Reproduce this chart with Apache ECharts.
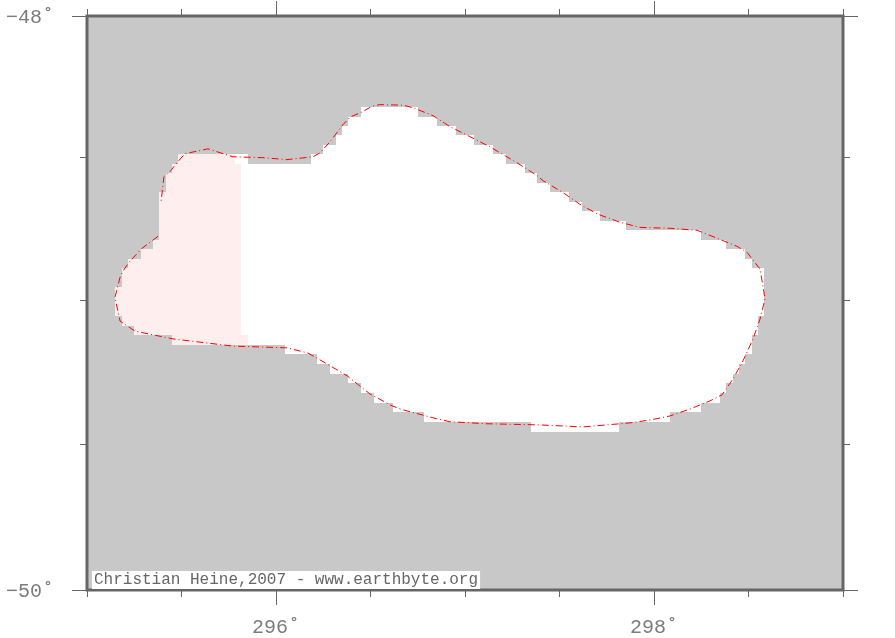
<!DOCTYPE html>
<html><head><meta charset="utf-8">
<style>html,body{margin:0;padding:0;background:#fff}#c{width:895px;height:638px}</style>
<script src="https://cdn.jsdelivr.net/npm/echarts@6/dist/echarts.min.js"></script>
</head><body><div id="c"></div>
<script>
const lonRange = [295, 299];
const latRange = [-50, -48];
const lonMajor = [296, 298];
const lonMinor = [295, 295.5, 296, 296.5, 297, 297.5, 298, 298.5, 299];
const latMajor = [-48, -50];
const latMinor = [-48.5, -49, -49.5];
const credit = 'Christian Heine,2007 - www.earthbyte.org';

// 2-minute raster: latitude of the row edges
const rowLat = [-48.323,-48.356,-48.389,-48.423,-48.456,-48.489,-48.523,-48.556,-48.589,-48.623,-48.656,-48.689,-48.723,-48.756,-48.789,-48.823,-48.856,-48.889,-48.923,-48.956,-48.989,-49.023,-49.056,-49.089,-49.123,-49.156,-49.189,-49.223,-49.256,-49.289,-49.323,-49.356,-49.389,-49.423,-49.456];
// raster extent per row, in grid columns
const rowWest = [43,41,40,39,37,35,13,12,12,11,11,11,11,11,10,8,6,5,5,4,4,4,5,7,13,31,36,38,41,43,45,48,53,70];
const rowEast = [52,55,58,61,64,66,69,71,73,76,78,81,85,97,101,104,105,107,107,107,107,107,106,106,105,105,104,103,102,101,100,97,92,84];
// separate patch on row 5, west of the gap
const patchRow = 5, patchWest = 14, patchEast = 25;
// tinted part: [row, from column, to column]
const tintRows = [[5,14,23],[6,13,24],[7,12,24],[8,12,24],[9,11,24],[10,11,24],[11,11,24],[12,11,24],[13,11,24],[14,10,24],[15,8,24],[16,6,24],[17,5,24],[18,5,24],[19,4,24],[20,4,24],[21,4,24],[22,5,24],[23,7,24],[24,13,25]];

// outline, which starts and ends at the break on the west side
const outlineLon = [295.376,295.291,295.222,295.190,295.175,295.148,295.153,295.175,295.254,295.455,295.772,296.058,296.169,296.270,296.376,296.497,296.614,296.672,296.852,296.921,297.116,297.397,297.624,297.873,297.979,298.085,298.190,298.296,298.360,298.418,298.471,298.524,298.561,298.587,298.577,298.561,298.492,298.439,298.323,298.228,298.085,297.926,297.820,297.704,297.608,297.519,297.413,297.381,297.275,297.132,297.026,296.921,296.831,296.725,296.672,296.550,296.508,296.455,296.392,296.354,296.286,296.233,296.196,296.058,295.931,295.772,295.640,295.519,295.481,295.439,295.407,295.392];
const outlineLat = [-48.777,-48.819,-48.868,-48.899,-48.920,-48.990,-49.007,-49.073,-49.108,-49.135,-49.160,-49.166,-49.184,-49.222,-49.263,-49.326,-49.367,-49.381,-49.412,-49.422,-49.429,-49.433,-49.440,-49.426,-49.416,-49.402,-49.378,-49.350,-49.329,-49.274,-49.211,-49.135,-49.066,-48.997,-48.952,-48.892,-48.833,-48.812,-48.781,-48.756,-48.749,-48.746,-48.728,-48.700,-48.665,-48.624,-48.582,-48.564,-48.519,-48.463,-48.427,-48.392,-48.353,-48.325,-48.316,-48.314,-48.320,-48.340,-48.358,-48.385,-48.445,-48.484,-48.498,-48.508,-48.501,-48.498,-48.470,-48.487,-48.515,-48.550,-48.568,-48.655];

// Mercator latitude scale
const merc = lat => Math.log(Math.tan(Math.PI / 4 + lat * Math.PI / 360));
const unmerc = m => (2 * Math.atan(Math.exp(m)) - Math.PI / 2) * 180 / Math.PI;
const colLon = c => 295 + (c + 0.5) / 30;

const FONT = 'Liberation Mono';
const INK = '#666666';
const LABEL = '#7c7c7c';
const WHITE = '#ffffff', TINT = '#ffeeee';

const cells = [];
rowWest.forEach((w, r) => cells.push([colLon(w), colLon(rowEast[r]), merc(rowLat[r]), merc(rowLat[r + 1]), WHITE]));
cells.push([colLon(patchWest), colLon(patchEast), merc(rowLat[patchRow]), merc(rowLat[patchRow + 1]), WHITE]);
tintRows.forEach(t => cells.push([colLon(t[1]), colLon(t[2]), merc(rowLat[t[0]]), merc(rowLat[t[0] + 1]), TINT]));

const xAx = (pos, vals, len, labels) => ({
  type: 'value', position: pos, min: lonRange[0], max: lonRange[1], scale: true,
  axisLine: {show: false}, splitLine: {show: false},
  axisTick: {show: true, customValues: vals, length: len, lineStyle: {color: INK, width: 1}},
  axisLabel: labels ? {show: true, customValues: vals, margin: 28, color: LABEL, fontFamily: FONT, fontSize: 20,
    formatter: v => Math.round(v) + '˚'} : {show: false}
});
const yAx = (pos, vals, len, labels) => ({
  type: 'value', position: pos, min: merc(latRange[0]), max: merc(latRange[1]), scale: true,
  axisLine: {show: false}, splitLine: {show: false},
  axisTick: {show: true, customValues: vals.map(merc), length: len, lineStyle: {color: INK, width: 1}},
  axisLabel: labels ? {show: true, customValues: vals.map(merc), margin: 33, verticalAlign: 'top', padding: [-8, 0, 0, 0], color: LABEL, fontFamily: FONT, fontSize: 20,
    formatter: v => '−' + Math.abs(Math.round(unmerc(v))) + '˚'} : {show: false}
});

const chart = echarts.init(document.getElementById('c'), null, {renderer: 'canvas'});
chart.setOption({
  animation: false,
  backgroundColor: '#ffffff',
  grid: {left: 87, top: 16, width: 756, height: 575, show: true, backgroundColor: '#c8c8c8', borderColor: INK, borderWidth: 3},
  xAxis: [xAx('bottom', lonMajor, 15, true), xAx('bottom', lonMinor, 7), xAx('top', lonMajor, 15), xAx('top', lonMinor, 7)],
  yAxis: [yAx('left', latMajor, 15, true), yAx('left', latMinor, 7), yAx('right', latMajor, 15), yAx('right', latMinor, 7)],
  title: {text: credit, left: 92, top: 571, padding: [1, 2, 1, 2], backgroundColor: '#ffffff',
    textStyle: {fontFamily: FONT, fontSize: 16, fontWeight: 'normal', color: INK, lineHeight: 16}},
  series: [
    {type: 'custom', silent: true, xAxisIndex: 0, yAxisIndex: 0, clip: true, data: cells,
      encode: {x: [0, 1], y: [2, 3]},
      renderItem(p, api) {
        const a = api.coord([api.value(0), api.value(2)]);
        const b = api.coord([api.value(1), api.value(3)]);
        const x = Math.round(a[0]), y = Math.round(a[1]);
        return {type: 'rect', shape: {x, y, width: Math.round(b[0]) - x, height: Math.round(b[1]) - y},
          style: {fill: cells[p.dataIndex][4]}};
      }},
    {type: 'line', silent: true, xAxisIndex: 0, yAxisIndex: 0, showSymbol: false, smooth: false, z: 5,
      data: outlineLon.map((x, i) => [x, merc(outlineLat[i])]),
      lineStyle: {color: '#ff0000', width: 1, type: [7, 3, 1, 3]}}
  ]
});
</script></body></html>
